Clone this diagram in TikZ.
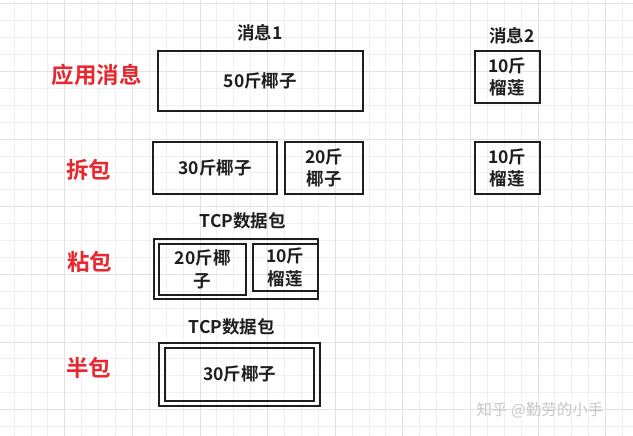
\documentclass[tikz,border=0pt]{standalone}
\usepackage{fontspec}
\setmainfont{Noto Sans CJK SC}[BoldFont={Noto Sans CJK SC Bold}]
\usetikzlibrary{positioning}
\definecolor{ink}{HTML}{1E1E1E}
\definecolor{hot}{HTML}{E8272F}
\definecolor{gridminor}{HTML}{F0F0F0}
\definecolor{gridmajor}{HTML}{E2E2E2}
\tikzset{
    pkt/.style={draw=ink, line width=1.9pt, inner sep=0pt, align=center, text=ink,
        font=\bfseries\fontsize{17.5}{22.5}\selectfont},
    ttl/.style={text=ink, inner sep=0pt, font=\bfseries\fontsize{17.5}{20}\selectfont},
    tag/.style={text=hot, inner sep=0pt, font=\bfseries\fontsize{22.5}{25}\selectfont}
}

\begin{document}
\begin{tikzpicture}[x=1pt, y=-1pt]
            \useasboundingbox (0,0) rectangle (633,436);
            \fill[white] (0,0) rectangle (633,436);
            % background grid
            \foreach \i in {-24,...,14}
                \draw[gridminor, line width=0.8pt] ({402.7+16.9*\i},0) -- ++(0,436);
            \foreach \j in {-17,...,10}
                \draw[gridminor, line width=0.8pt] (0,{274.3+16.9*\j}) -- ++(633,0);
            \foreach \i in {-6,...,3}
                \draw[gridmajor, line width=0.8pt] ({402.7+67.6*\i},0) -- ++(0,436);
            \foreach \j in {-4,...,2}
                \draw[gridmajor, line width=0.8pt] (0,{274.3+67.6*\j}) -- ++(633,0);

            % application messages
            \node[pkt, minimum width=205.4, minimum height=59.8] (msgA) at (260.3,80.8) {50斤椰子};
            \node[pkt, minimum width=64.8, minimum height=52.1] (msgB) at (507.3,77) {10斤\\榴莲};
            \node[ttl] (msgAttl) at (260,33) {消息1};
            \node[ttl] (msgBttl) at (511.7,36) {消息2};

            % split
            \node[pkt, minimum width=124.8, minimum height=52.4] (splitA) at (215,167.8) {30斤椰子};
            \node[pkt, minimum width=77.8, minimum height=52.4] (splitB) at (324.2,167.8) {20斤\\椰子};
            \node[pkt, minimum width=64.8, minimum height=52.4] (splitC) at (507.3,167.8) {10斤\\榴莲};

            % sticky packet
            \node[pkt, minimum width=163.8, minimum height=60.1] (stickBox) at (236.2,269) {};
            \node[pkt, minimum width=87.4, minimum height=50.3] (stickA) at (202.7,269.4) {20斤椰\\子};
            \node[pkt, minimum width=65.4, minimum height=46.5] (stickB) at (285.3,267.5) {10斤\\榴莲};
            \node[ttl] (stickttl) at (242.7,220.7) {TCP数据包};

            % half packet
            \node[pkt, minimum width=161.4, minimum height=62.5] (halfBox) at (239.3,374.5) {};
            \node[pkt, minimum width=148.8, minimum height=53.1] (halfA) at (239.7,374.2) {30斤椰子};
            \node[ttl] (halfttl) at (231.7,326.7) {TCP数据包};

            % row tags
            \node[tag] (tagApp) at (97,75) {应用消息};
            \node[tag] (tagSplit) at (88.5,170) {拆包};
            \node[tag] (tagStick) at (89.5,262) {粘包};
            \node[tag] (tagHalf) at (89,368) {半包};

            \node[text=black!22, inner sep=0pt, font=\fontsize{15.5}{18}\selectfont] (mark) at (540,410) {知乎 @勤劳的小手};
        \end{tikzpicture}
\end{document}
